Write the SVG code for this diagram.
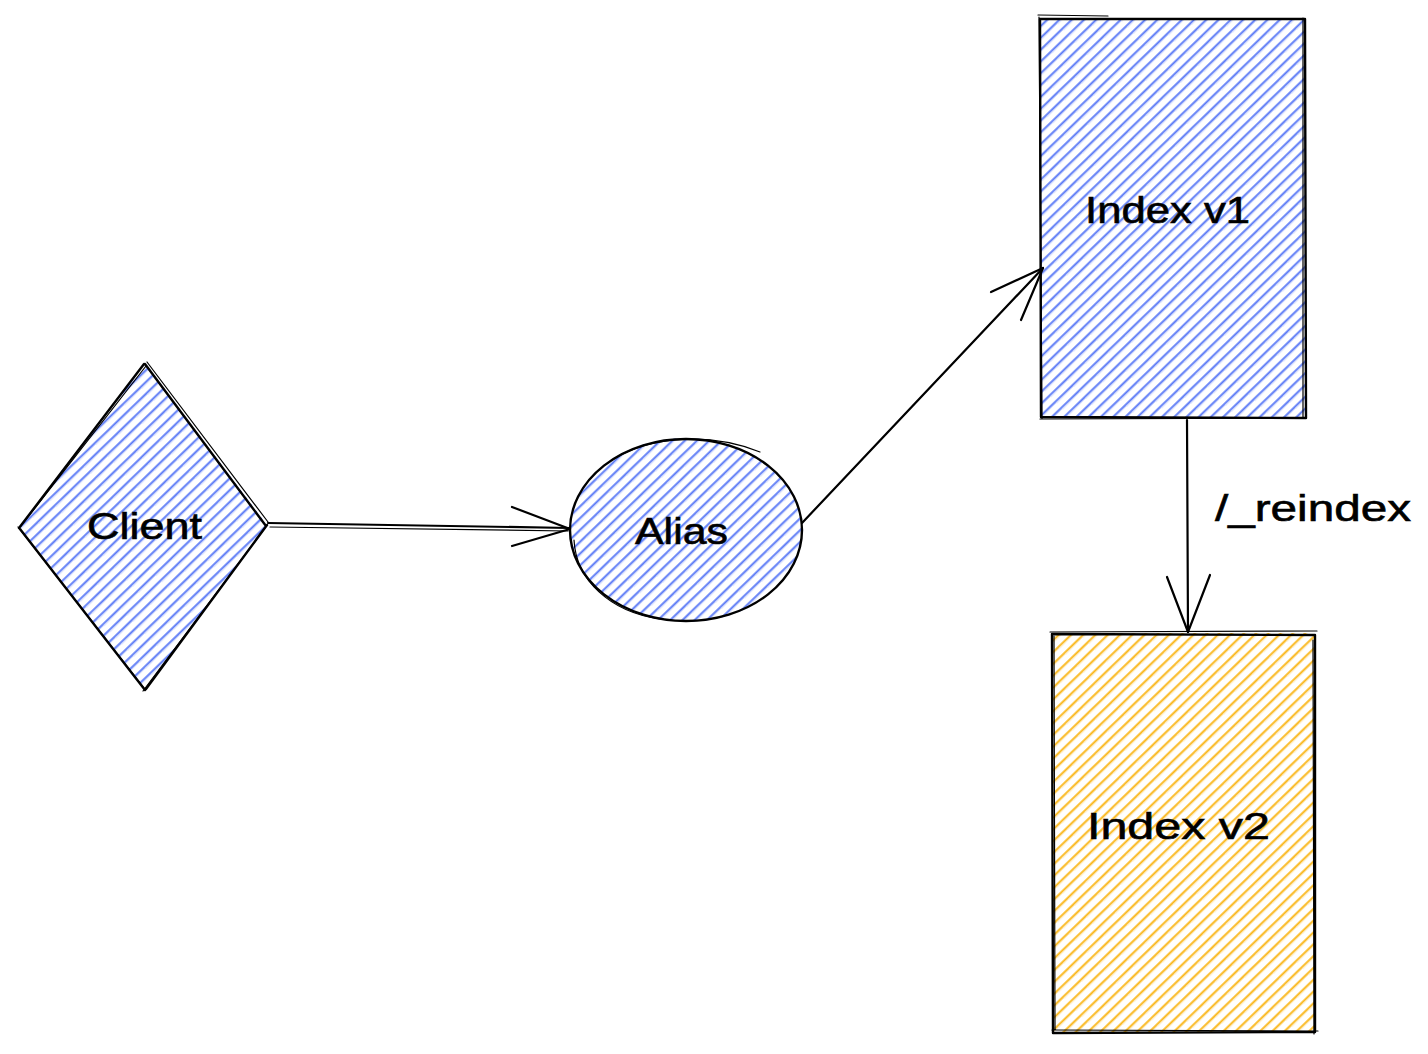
<svg xmlns="http://www.w3.org/2000/svg" width="1428" height="1054" viewBox="0 0 1428 1054">
  <defs>
    <!-- hachure fills -->
    <pattern id="hatchBlue" patternUnits="userSpaceOnUse" width="24" height="8.5" patternTransform="rotate(-44)">
      <line x1="0" y1="2" x2="24" y2="2" stroke="#4c6ef5" stroke-width="1.5"/>
      <line x1="0" y1="3.6" x2="24" y2="3.3" stroke="#4c6ef5" stroke-width="0.7" opacity="0.6"/>
    </pattern>
    <pattern id="hatchOrange" patternUnits="userSpaceOnUse" width="24" height="8.5" patternTransform="rotate(-44)">
      <line x1="0" y1="2" x2="24" y2="2" stroke="#fab005" stroke-width="1.5"/>
      <line x1="0" y1="3.6" x2="24" y2="3.3" stroke="#fab005" stroke-width="0.7" opacity="0.6"/>
    </pattern>
  </defs>
  <style>
    .outline { fill: none; stroke: #000; stroke-width: 2.4; stroke-linecap: round; stroke-linejoin: round; }
    .thin { fill: none; stroke: #000; stroke-width: 1.2; stroke-linecap: round; }
    .edge { fill: none; stroke: #000; stroke-width: 2.2; stroke-linecap: round; stroke-linejoin: round; }
    .label { font-family: "Liberation Sans", "DejaVu Sans", sans-serif; font-size: 36px; fill: #000; stroke: #000; stroke-width: 0.6; }
  </style>

  <rect width="1428" height="1054" fill="#ffffff"/>

  <!-- Client -->
  <g id="client">
    <path d="M145,363 L267,525 L145,690 L19,528 Z" fill="url(#hatchBlue)"/>
    <path class="outline" d="M145,364 L266,526 M267,525 L146,689 M145,690 L20,529 M19,528 L144,364"/>
    <path class="thin" d="M147,362 L268,522 M265,528 L143,691 M144,688 L18,527 M21,526 L146,366"/>
    <text class="label" x="87" y="539" textLength="115" lengthAdjust="spacingAndGlyphs">Client</text>
  </g>

  <!-- Alias -->
  <g id="alias">
    <ellipse cx="686" cy="530" rx="116" ry="92" fill="url(#hatchBlue)"/>
    <ellipse class="outline" cx="686" cy="530" rx="116" ry="91"/>
    <path class="thin" d="M612,460 C650,436 710,432 760,452"/>
    <path class="thin" d="M574,540 C576,580 610,612 660,619"/>
    <text class="label" x="635" y="544" textLength="93" lengthAdjust="spacingAndGlyphs">Alias</text>
  </g>

  <!-- Index v1 -->
  <g id="index-v1">
    <rect x="1040" y="18" width="265" height="400" fill="url(#hatchBlue)"/>
    <path class="outline" d="M1040,19 L1305,19 L1306,418 L1041,417 Z"/>
    <path class="thin" d="M1038,15 L1108,16 M1039,17 L1042,418 M1303,18 L1303,418 M1040,419 L1300,418"/>
    <text class="label" x="1085" y="223" textLength="165" lengthAdjust="spacingAndGlyphs">Index v1</text>
  </g>

  <!-- Index v2 -->
  <g id="index-v2">
    <rect x="1052" y="633" width="263" height="400" fill="url(#hatchOrange)"/>
    <path class="outline" d="M1052,634 L1315,635 L1315,1032 L1053,1033 Z"/>
    <path class="thin" d="M1050,632 L1317,631 M1054,636 L1055,1030 M1313,640 L1314,1034 M1052,1030 L1318,1031"/>
    <text class="label" x="1087" y="839" textLength="183" lengthAdjust="spacingAndGlyphs">Index v2</text>
  </g>

  <!-- connectors -->
  <g id="connectors">
    <!-- Client to Alias -->
    <path class="edge" d="M268,523 L570,528"/>
    <path class="thin" d="M270,527 L568,531"/>
    <path class="edge" d="M512,507 L570,529 L512,546"/>
    <!-- Alias to Index v1 -->
    <path class="edge" d="M802,523 L1043,268"/>
    <path class="edge" d="M991,292 L1043,268 L1021,320"/>
    <!-- Index v1 to Index v2 -->
    <path class="edge" d="M1187,420 L1188,632"/>
    <path class="edge" d="M1167,577 L1188,632 L1210,575"/>
    <text class="label" x="1215" y="521" textLength="196" lengthAdjust="spacingAndGlyphs">/_reindex</text>
  </g>
</svg>
